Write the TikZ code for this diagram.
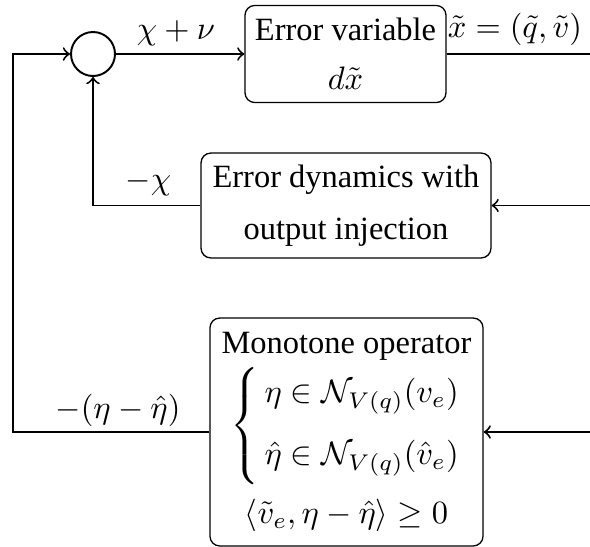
\documentclass[tikz,border=0pt]{standalone}
\usepackage{amsmath,amssymb}
\usepackage[no-math]{fontspec}
\setmainfont{Liberation Serif}

\begin{document}
\begin{tikzpicture}[x=0.308pt,y=-0.308pt,
    blk/.style={draw,thin,rounded corners=3pt,align=center,inner sep=1pt},
    sumnode/.style={draw,semithick,circle,minimum size=13.55pt,inner sep=0pt},
    wire/.style={semithick},
    lbl/.style={inner sep=0pt}]
  \useasboundingbox (0,0) rectangle (590,546);

% summing junction and the three blocks
  \node[sumnode] (sum) at (93,54) {};
  \node[blk,minimum width=61.9pt,minimum height=29.9pt] (errvar) at (345.5,54)
       {Error variable\\[3pt] $d\tilde{x}$};
  \node[blk,minimum width=89.3pt,minimum height=32.3pt] (errdyn) at (346,205.5)
       {Error dynamics with\\[4pt] output injection};
  \node[blk,minimum width=84.1pt,minimum height=70.2pt] (monop) at (346.5,432)
       {Monotone operator\\[1pt]
        $\delimitershortfall=-4pt
         \left\{\begin{array}{@{\,}l@{}} \eta \in \mathcal{N}_{V(q)}(v_e) \\[7pt]
                       \hat{\eta} \in \mathcal{N}_{V(q)}(\hat{v}_e) \end{array}\right.$\\[3.5pt]
        $\langle \tilde{v}_e, \eta-\hat{\eta} \rangle \geq 0$};

% signal labels
  \node[lbl] (sumout) at (176,33) {$\chi+\nu$};
  \node[lbl] (xout)   at (515,29) {$\tilde{x}=(\tilde{q},\tilde{v})$};
  \node[lbl] (chifb)  at (148.5,183) {$-\chi$};
  \node[lbl] (etafb)  at (118,410) {$-(\eta-\hat{\eta})$};

% free ends at the edges
  \coordinate (out) at (590,54);
  \coordinate (in2) at (590,205.5);
  \coordinate (in3) at (590,432);
  \coordinate (lft) at (13,432);

  \draw[wire,->] (sum) -- (errvar);
  \draw[wire]    (errvar) -- (out);
  \draw[wire,->] (in2) -- (errdyn);
  \draw[wire,->] (in3) -- (monop);
  \draw[wire,->] (errdyn.west) -| (sum.south);
  \draw[wire,->] (monop.west) -- (lft) |- (sum.west);
\end{tikzpicture}
\end{document}
